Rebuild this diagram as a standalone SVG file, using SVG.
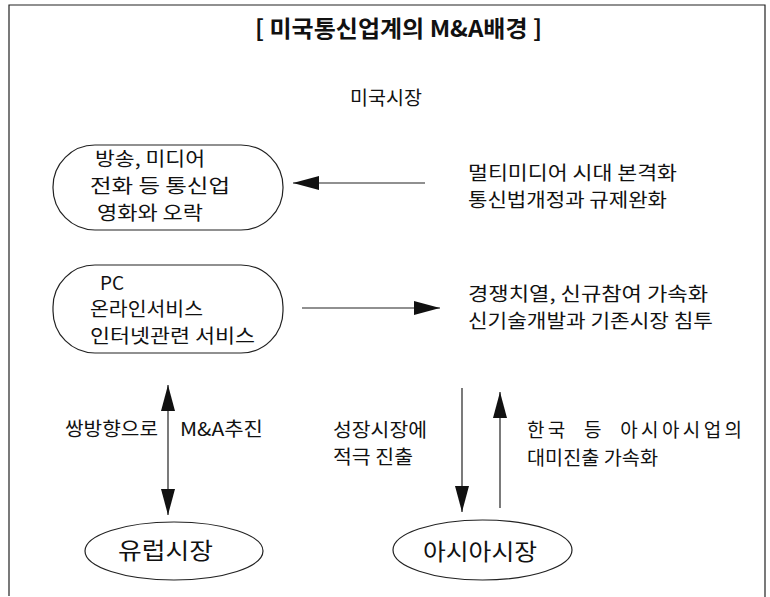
<svg xmlns="http://www.w3.org/2000/svg" width="770" height="597" viewBox="0 0 770 597">
<defs>
<style>
.t{font-family:"Noto Sans CJK KR","Noto Sans",sans-serif;font-size:19px;fill:#111}
.title{font-family:"Noto Sans CJK KR","Noto Sans",sans-serif;font-size:23px;font-weight:bold;fill:#111}
.mid{font-family:"Noto Sans CJK KR","Noto Sans",sans-serif;font-size:19px;fill:#111}
.big{font-family:"Noto Sans CJK KR","Noto Sans",sans-serif;font-size:23px;fill:#111}
.shape{fill:#fff;stroke:#222;stroke-width:1.2}
.line{fill:none;stroke:#222;stroke-width:1.2}
</style>
<marker id="ah" viewBox="0 0 26 14" refX="26" refY="7" markerWidth="26" markerHeight="14" markerUnits="userSpaceOnUse" orient="auto-start-reverse">
<path d="M0,0 L26,7 L0,14 Z" fill="#111"/>
</marker>
</defs>
<rect x="0" y="0" width="770" height="597" fill="#fff"/>
<path class="line" d="M9,596 L9,5 L765,5 L765,597"/>
<text class="title" x="255" y="37" textLength="287" lengthAdjust="spacingAndGlyphs">[ 미국통신업계의 M&amp;A배경 ]</text>
<text class="mid" x="350" y="105" textLength="72" lengthAdjust="spacingAndGlyphs">미국시장</text>
<g id="node-media">
<rect class="shape" x="53" y="145" width="230" height="85" rx="42" ry="42"/>
<text class="t" x="95" y="166" textLength="110" lengthAdjust="spacingAndGlyphs">방송, 미디어</text>
<text class="t" x="90" y="193" textLength="140" lengthAdjust="spacingAndGlyphs">전화 등 통신업</text>
<text class="t" x="97" y="220" textLength="106" lengthAdjust="spacingAndGlyphs">영화와 오락</text>
</g>
<g id="node-pc">
<rect class="shape" x="53" y="265" width="230" height="88" rx="42" ry="42"/>
<text class="t" x="100" y="290">PC</text>
<text class="t" x="90" y="316" textLength="113" lengthAdjust="spacingAndGlyphs">온라인서비스</text>
<text class="t" x="90" y="343" textLength="165" lengthAdjust="spacingAndGlyphs">인터넷관련 서비스</text>
</g>
<g id="node-multimedia">
<text class="t" x="468" y="180" textLength="209" lengthAdjust="spacingAndGlyphs">멀티미디어 시대 본격화</text>
<text class="t" x="468" y="207" textLength="199" lengthAdjust="spacingAndGlyphs">통신법개정과 규제완화</text>
</g>
<g id="node-competition">
<text class="t" x="468" y="301" textLength="240" lengthAdjust="spacingAndGlyphs">경쟁치열, 신규참여 가속화</text>
<text class="t" x="468" y="328" textLength="245" lengthAdjust="spacingAndGlyphs">신기술개발과 기존시장 침투</text>
</g>
<g id="node-europe">
<ellipse class="shape" cx="174" cy="551" rx="89" ry="29"/>
<text class="big" x="118" y="559" textLength="95" lengthAdjust="spacingAndGlyphs">유럽시장</text>
</g>
<g id="node-asia">
<ellipse class="shape" cx="482.5" cy="550" rx="89.5" ry="30"/>
<text class="big" x="423" y="560" textLength="114" lengthAdjust="spacingAndGlyphs">아시아시장</text>
</g>
<g id="connectors">
<line class="line" x1="425" y1="183" x2="293" y2="183" marker-end="url(#ah)"/>
<line class="line" x1="302" y1="308" x2="440" y2="308" marker-end="url(#ah)"/>
<line class="line" x1="168" y1="385" x2="168" y2="515" marker-start="url(#ah)" marker-end="url(#ah)"/>
<line class="line" x1="462" y1="388" x2="462" y2="512" marker-end="url(#ah)"/>
<line class="line" x1="500" y1="508" x2="500" y2="392" marker-end="url(#ah)"/>
</g>
<g id="labels">
<text class="t" x="65" y="436" textLength="93" lengthAdjust="spacingAndGlyphs">쌍방향으로</text>
<text class="t" x="180" y="436" textLength="83" lengthAdjust="spacingAndGlyphs">M&amp;A추진</text>
<text class="t" x="333" y="437" textLength="94" lengthAdjust="spacingAndGlyphs">성장시장에</text>
<text class="t" x="333" y="464" textLength="80" lengthAdjust="spacingAndGlyphs">적극 진출</text>
<text class="t" x="527" y="437" textLength="215" lengthAdjust="spacing" xml:space="preserve">한국  등  아시아시업의</text>
<text class="t" x="527" y="465" textLength="131" lengthAdjust="spacingAndGlyphs">대미진출 가속화</text>
</g>
</svg>
